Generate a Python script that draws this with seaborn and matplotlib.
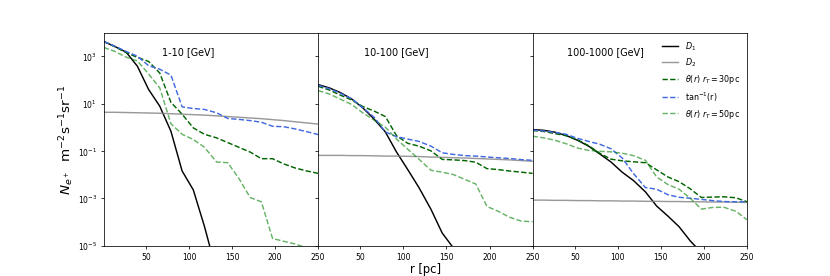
import numpy as np
import matplotlib
matplotlib.use("Agg")
import matplotlib.pyplot as plt
import matplotlib.ticker as mticker
import seaborn as sns

# radial grid [pc]
r = [1, 14, 27, 40, 53, 66, 79, 92, 105, 118, 132, 145, 158, 171, 184, 197, 210, 223, 237, 250]

# log10 of N_e+, one list per curve and energy band
# 1-10 GeV
d1_low = [3.62, 3.41, 3.17, 2.58, 1.60, 0.89, -0.17, -1.85, -2.65, -4.20, -6.10, -7.90,
          -9.70, -11.5, -13.3, -15.1, -16.9, -18.7, -20.5, -22.3]
d2_low = [0.63, 0.63, 0.62, 0.61, 0.60, 0.59, 0.57, 0.55, 0.53, 0.51, 0.48, 0.45,
          0.42, 0.39, 0.36, 0.32, 0.28, 0.23, 0.18, 0.13]
th30_low = [3.62, 3.40, 3.15, 2.95, 2.78, 2.29, 1.05, 0.55, -0.03, -0.30, -0.45, -0.65,
            -0.85, -1.05, -1.33, -1.33, -1.55, -1.72, -1.85, -1.95]
atan_low = [3.62, 3.42, 3.20, 3.00, 2.60, 2.45, 2.20, 0.86, 0.79, 0.75, 0.61, 0.37,
            0.33, 0.28, 0.21, 0.04, 0.02, -0.07, -0.19, -0.31]
th50_low = [3.37, 3.20, 2.96, 2.80, 2.25, 1.66, 0.15, -0.30, -0.52, -0.85, -1.47, -1.50,
            -2.17, -2.97, -3.15, -4.70, -4.82, -4.93, -5.10, -5.20]

# 10-100 GeV
d1_mid = [1.80, 1.66, 1.46, 1.19, 0.81, 0.34, -0.20, -1.05, -1.79, -2.55, -3.47, -4.47,
          -5.10, -5.70, -6.30, -6.90, -7.50, -8.10, -8.70, -9.30]
d2_mid = [-1.19, -1.19, -1.19, -1.20, -1.20, -1.21, -1.22, -1.22, -1.23, -1.24, -1.26, -1.27,
          -1.29, -1.30, -1.32, -1.34, -1.36, -1.38, -1.41, -1.44]
th30_mid = [1.73, 1.57, 1.35, 1.15, 0.87, 0.68, 0.45, -0.36, -0.68, -0.80, -1.00, -1.36,
            -1.38, -1.41, -1.48, -1.75, -1.79, -1.85, -1.90, -1.95]
atan_mid = [1.77, 1.63, 1.43, 1.20, 0.82, 0.42, -0.20, -0.40, -0.50, -0.60, -0.80, -1.08,
            -1.15, -1.20, -1.22, -1.26, -1.29, -1.32, -1.37, -1.40]
th50_mid = [1.55, 1.40, 1.18, 0.96, 0.60, 0.30, 0.00, -0.50, -0.93, -1.35, -1.82, -1.90,
            -2.00, -2.20, -2.40, -3.35, -3.55, -3.80, -3.97, -3.99]

# 100-1000 GeV
d1_high = [-0.10, -0.13, -0.21, -0.35, -0.55, -0.80, -1.13, -1.47, -1.90, -2.25, -2.73, -3.33,
           -3.75, -4.20, -4.80, -5.30, -5.80, -6.30, -6.80, -7.30]
d2_high = [-3.08, -3.08, -3.09, -3.09, -3.10, -3.10, -3.11, -3.11, -3.12, -3.12, -3.13, -3.13,
           -3.14, -3.14, -3.15, -3.15, -3.16, -3.16, -3.17, -3.18]
th30_high = [-0.14, -0.18, -0.27, -0.36, -0.53, -0.78, -1.10, -1.35, -1.42, -1.46, -1.50, -1.80,
             -2.10, -2.30, -2.60, -2.97, -2.95, -2.94, -2.98, -3.15]
atan_high = [-0.12, -0.16, -0.22, -0.30, -0.47, -0.60, -0.72, -0.91, -1.30, -1.95, -2.55, -2.62,
             -2.85, -2.96, -3.00, -3.05, -3.10, -3.14, -3.15, -3.15]
th50_high = [-0.38, -0.45, -0.55, -0.70, -0.88, -0.98, -1.02, -1.04, -1.10, -1.20, -1.40, -2.10,
             -2.42, -2.62, -3.00, -3.46, -3.39, -3.38, -3.55, -3.91]

bands = ['1-10 [GeV]', '10-100 [GeV]', '100-1000 [GeV]']
band_x = [0.27, 0.215, 0.16]
panels = [
    [d1_low, d2_low, th30_low, atan_low, th50_low],
    [d1_mid, d2_mid, th30_mid, atan_mid, th50_mid],
    [d1_high, d2_high, th30_high, atan_high, th50_high],
]
labels = ['$D_1$', '$D_2$', r'$\theta(r)\ r_T = 30$pc', r'tan$^{-1}$(r)', r'$\theta(r)\ r_T = 50$pc']
styles = [
    dict(color='black', linestyle='-', alpha=1.0),
    dict(color='gray', linestyle='-', alpha=0.8),
    dict(color='darkgreen', linestyle='--', alpha=1.0),
    dict(color='royalblue', linestyle='--', alpha=1.0),
    dict(color='green', linestyle='--', alpha=0.6),
]

fig, axes = plt.subplots(1, 3, figsize=(12, 4), dpi=69.17, sharey=True)
fig.subplots_adjust(wspace=0)

for ax, curves, band, tx in zip(axes, panels, bands, band_x):
    for vals, lab, st in zip(curves, labels, styles):
        sns.lineplot(x=r, y=np.power(10.0, vals), ax=ax, label=lab, lw=1.5, **st)
    ax.set_yscale('log')
    ax.set_xlim(1, 250)
    ax.set_ylim(1e-5, 1e4)
    ax.set_xticks([50, 100, 150, 200, 250])
    ax.yaxis.set_major_locator(mticker.FixedLocator([1e-5, 1e-3, 1e-1, 1e1, 1e3]))
    ax.yaxis.set_minor_locator(mticker.NullLocator())
    ax.tick_params(labelsize=8)
    ax.text(tx, 0.91, band, transform=ax.transAxes, ha='left', va='center', fontsize=10)
    ax.set_xlabel('')
    if ax is not axes[2]:
        ax.get_legend().remove()

axes[2].legend(loc='upper right', frameon=False, fontsize='small')
axes[0].set_ylabel('$N_{e^+}$  m$^{-2}$s$^{-1}$sr$^{-1}$', fontsize=14, labelpad=2)
axes[1].set_xlabel('r [pc]', fontsize=12, labelpad=1)

plt.savefig('out.png', dpi=69.17)
